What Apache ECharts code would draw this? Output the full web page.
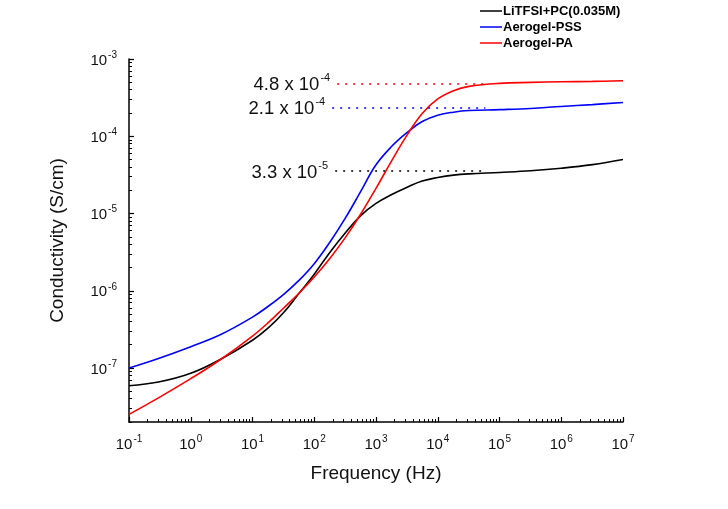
<!DOCTYPE html>
<html>
<head>
<meta charset="utf-8">
<script src="https://cdn.jsdelivr.net/npm/echarts@6/dist/echarts.min.js"></script>
<style>
html,body{margin:0;padding:0;background:#fff;}
#chart{width:728px;height:509px;}
</style>
</head>
<body>
<div id="chart"></div>
<script>
// ---- data ----
const frequency = [0.1, 0.3, 1, 3, 10, 18, 32, 56, 100, 180, 320, 560, 1000, 1800, 3200, 5600, 1e4, 1.8e4, 3.2e4, 1e5, 3.2e5, 1e6, 3.2e6, 1e7];
const seriesNames = ['LiTFSI+PC(0.035M)', 'Aerogel-PSS', 'Aerogel-PA'];
const litfsi = [5.89e-8, 6.58e-8, 8.55e-8, 1.29e-7, 2.29e-7, 3.30e-7, 5.22e-7, 9.12e-7, 1.64e-6, 3.16e-6, 5.62e-6, 9.33e-6, 1.35e-5, 1.76e-5, 2.19e-5, 2.63e-5, 2.92e-5, 3.14e-5, 3.26e-5, 3.40e-5, 3.57e-5, 3.85e-5, 4.29e-5, 5.01e-5];
const aerogelPSS = [1.00e-7, 1.33e-7, 1.89e-7, 2.69e-7, 4.56e-7, 6.30e-7, 8.99e-7, 1.35e-6, 2.24e-6, 4.28e-6, 8.77e-6, 1.90e-5, 4.27e-5, 7.41e-5, 1.12e-4, 1.55e-4, 1.87e-4, 2.05e-4, 2.15e-4, 2.21e-4, 2.29e-4, 2.43e-4, 2.57e-4, 2.74e-4];
const aerogelPA = [2.51e-8, 4.11e-8, 7.28e-8, 1.28e-7, 2.59e-7, 3.86e-7, 5.98e-7, 9.23e-7, 1.51e-6, 2.64e-6, 4.91e-6, 9.70e-6, 2.12e-5, 4.84e-5, 1.04e-4, 1.97e-4, 3.04e-4, 3.89e-4, 4.42e-4, 4.84e-4, 4.98e-4, 5.07e-4, 5.13e-4, 5.22e-4];
const seriesColors = ['#000000', '#0000ff', '#ff0000'];

// annotations: mantissa, exponent, dotted-line level, start/end frequency
const annoMantissa = ['3.3', '2.1', '4.8'];
const annoExponent = ['-5', '-4', '-4'];
const annoLevel = [3.53e-5, 2.33e-4, 4.83e-4];
const annoStart = [218, 195, 235];
const annoEnd = [6.3e4, 5.9e4, 5.6e4];

// axis tick labels
const xMajorTicks = [0.1, 1, 10, 100, 1000, 1e4, 1e5, 1e6, 1e7];
const yMajorTicks = [1e-7, 1e-6, 1e-5, 1e-4, 1e-3];
const xRange = [0.1, 1e7];
const yRange = [2e-8, 1e-3];

// minor tick positions (2..9 within each decade)
function minorTicks(lo, hi) {
  const out = [];
  for (let d = Math.floor(Math.log10(lo)); d < Math.round(Math.log10(hi)); d++) {
    for (let k = 2; k <= 9; k++) {
      const v = parseFloat((k * Math.pow(10, d)).toPrecision(6));
      if (v >= lo && v <= hi) out.push(v);
    }
  }
  return out;
}
const xMinor = minorTicks(xRange[0], xRange[1]);
const yMinor = minorTicks(yRange[0], yRange[1]);

const FONT = 'Arial, "Liberation Sans", sans-serif';
function powLabel(v) {
  const e = Math.round(Math.log10(v));
  return '{b|10}{s|' + e + '}';
}
const tickRich = {
  b: { fontSize: 15, fontFamily: FONT, color: '#111', lineHeight: 18, verticalAlign: 'bottom' },
  s: { fontSize: 10, fontFamily: FONT, color: '#111', lineHeight: 18, verticalAlign: 'top', padding: [0, 0, 0, 1] }
};
const annoRich = {
  b: { fontSize: 18.5, fontFamily: FONT, color: '#111', lineHeight: 22, verticalAlign: 'bottom' },
  s: { fontSize: 11, fontFamily: FONT, color: '#111', lineHeight: 22, verticalAlign: 'top', padding: [0, 0, 0, 1] }
};

const chart = echarts.init(document.getElementById('chart'), null, { renderer: 'canvas' });

const dataSets = [litfsi, aerogelPSS, aerogelPA];
const series = dataSets.map((arr, i) => ({
  name: seriesNames[i],
  type: 'line',
  xAxisIndex: 0,
  yAxisIndex: 0,
  data: frequency.map((f, j) => [f, arr[j]]),
  showSymbol: false,
  symbol: 'none',
  smooth: 0.4,
  lineStyle: { color: seriesColors[i], width: 1.6 },
  itemStyle: { color: seriesColors[i] },
  z: 3,
  markLine: {
    silent: true,
    symbol: ['none', 'none'],
    animation: false,
    lineStyle: { color: seriesColors[i], type: [2, 6], width: 1.6 },
    label: {
      show: true,
      position: 'start',
      distance: 7,
      formatter: () => '{b|' + annoMantissa[i] + ' x 10}{s|' + annoExponent[i] + '}',
      rich: annoRich
    },
    emphasis: { disabled: true },
    data: [[
      { coord: [annoStart[i], annoLevel[i]] },
      { coord: [annoEnd[i], annoLevel[i]] }
    ]]
  }
}));

const option = {
  animation: false,
  backgroundColor: '#ffffff',
  grid: { left: 129, right: 105, top: 59, bottom: 87, containLabel: false, outerBoundsMode: 'none' },
  legend: {
    left: 480,
    top: 4,
    padding: 0,
    orient: 'vertical',
    icon: 'rect',
    itemWidth: 22,
    itemHeight: 1.5,
    itemGap: 2,
    textStyle: { fontFamily: FONT, fontWeight: 'bold', fontSize: 13, color: '#000', padding: [0, 0, 0, -4], lineHeight: 14 },
    data: seriesNames
  },
  xAxis: [
    {
      type: 'log', logBase: 10, min: xRange[0], max: xRange[1],
      position: 'bottom',
      name: 'Frequency (Hz)', nameLocation: 'middle', nameGap: 42,
      nameTextStyle: { fontFamily: FONT, fontSize: 19, color: '#111' },
      axisLine: { show: true, onZero: false, lineStyle: { color: '#000', width: 1.5 } },
      axisTick: { show: true, inside: true, length: 5, customValues: xMajorTicks, lineStyle: { color: '#000', width: 1.2 } },
      axisLabel: { show: true, margin: 12, customValues: xMajorTicks, formatter: powLabel, rich: tickRich },
      splitLine: { show: false },
      minorTick: { show: false }
    },
    {
      type: 'log', logBase: 10, min: xRange[0], max: xRange[1],
      position: 'bottom', gridIndex: 0,
      axisLine: { show: false },
      axisTick: { show: true, inside: true, length: 3, customValues: xMinor, lineStyle: { color: '#000', width: 1 } },
      axisLabel: { show: false },
      splitLine: { show: false }
    }
  ],
  yAxis: [
    {
      type: 'log', logBase: 10, min: yRange[0], max: yRange[1],
      position: 'left',
      name: 'Conductivity (S/cm)', nameLocation: 'middle', nameGap: 62,
      nameTextStyle: { fontFamily: FONT, fontSize: 19, color: '#111' },
      axisLine: { show: true, onZero: false, lineStyle: { color: '#000', width: 1.5 } },
      axisTick: { show: true, inside: true, length: 5, customValues: yMajorTicks, lineStyle: { color: '#000', width: 1.2 } },
      axisLabel: { show: true, margin: 12, customValues: yMajorTicks, formatter: powLabel, rich: tickRich },
      splitLine: { show: false },
      minorTick: { show: false }
    },
    {
      type: 'log', logBase: 10, min: yRange[0], max: yRange[1],
      position: 'left', gridIndex: 0,
      axisLine: { show: false },
      axisTick: { show: true, inside: true, length: 3, customValues: yMinor, lineStyle: { color: '#000', width: 1 } },
      axisLabel: { show: false },
      splitLine: { show: false }
    }
  ],
  series: series
};
chart.setOption(option);
</script>
</body>
</html>
